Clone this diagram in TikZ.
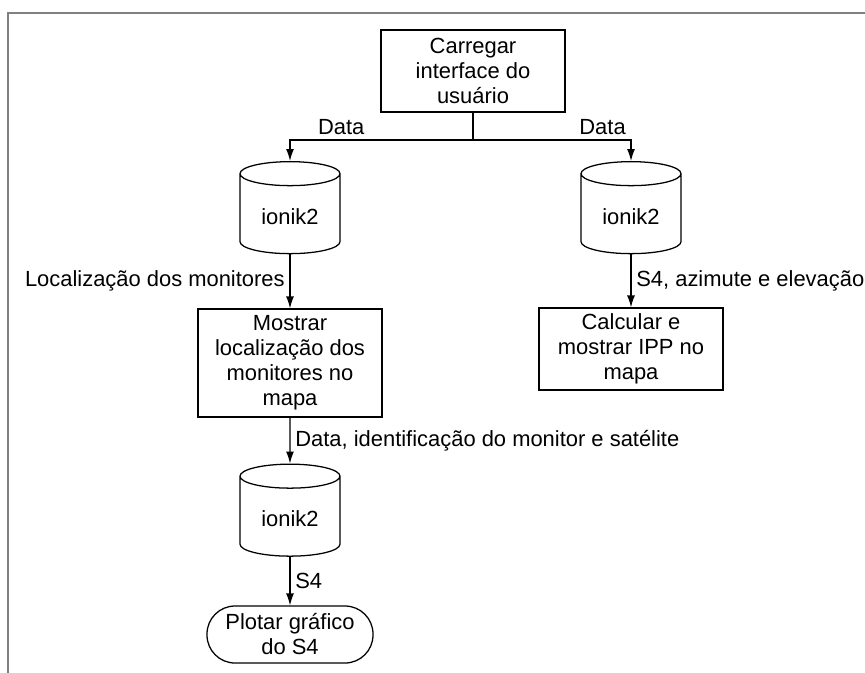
\documentclass[tikz,border=0pt]{standalone}
\usepackage{fontspec}
\setmainfont{Liberation Sans}
\usepackage{tikz}
\usetikzlibrary{shapes.geometric, arrows, arrows.meta, positioning, shapes}
\tikzstyle{process} = [rectangle, minimum width=4.6cm, minimum height=2.05cm, align=center, draw=black, line width=0.9pt]
\tikzstyle{database} = [cylinder, shape border rotate=90, aspect=0.36, minimum width=2.5cm, minimum height=2.3cm, draw=black, line width=0.9pt]
\tikzstyle{startstop} = [rectangle, rounded corners=0.7cm, minimum width=4.15cm, minimum height=1.425cm, align=center, draw=black, line width=0.9pt]
\tikzstyle{line} = [draw, line width=0.9pt, -{Latex[length=3mm,width=2mm]}]
\tikzstyle{frame} = [draw=black!50, line width=1.4pt]

\begin{document}
\begin{tikzpicture}[node distance = 2cm, auto, font=\fontsize{15.6}{17.8}\selectfont]
        \useasboundingbox (-11.825,1.775) rectangle (9.8,-15.025);
        \draw [frame] (-11.625,-15.2) -- (-11.625,1.45) -- (9.95,1.45);

		\node (ui) [process] {Carregar\\interface do\\usuário};
		\coordinate [below of=ui, yshift=0.275cm] (split);
		\node (db1) [database, below of=ui, xshift=-4.575cm, yshift=-1.6375cm] {ionik2};
		\node (db2) [database, right of=db1, xshift=6.525cm] {ionik2};
		\node (mapa) [process, below of=db1, yshift=-1.6625cm, minimum height=2.7cm] {Mostrar\\localização dos\\monitores no\\mapa};
		\node (ipp) [process, below of=db2, yshift=-1.3125cm] {Calcular e\\mostrar IPP no\\mapa};
		\node (db3) [database, below of=mapa, yshift=-1.9cm] {ionik2};
		\node (plot) [startstop, below of=db3, yshift=-0.8875cm] {Plotar gráfico\\do S4};

		 % Draw edges
		 \draw [line width=0.9pt] (ui) -- (split);
		 \path [line] (split) -| node [pos=0.36, above] {Data} (db1);
		 \path [line] (split) -| node [pos=0.41, above] {Data} (db2);
		 \path [line] (db1) -- node [swap] {Localização dos monitores} (mapa);
		 \path [line] (db2) -- node {S4, azimute e elevação} (ipp);
		 \path [line] (mapa) -- node {Data, identificação do monitor e satélite} (db3);
		 \path [line] (db3) -- node {S4} (plot);

         \end{tikzpicture}
\end{document}
